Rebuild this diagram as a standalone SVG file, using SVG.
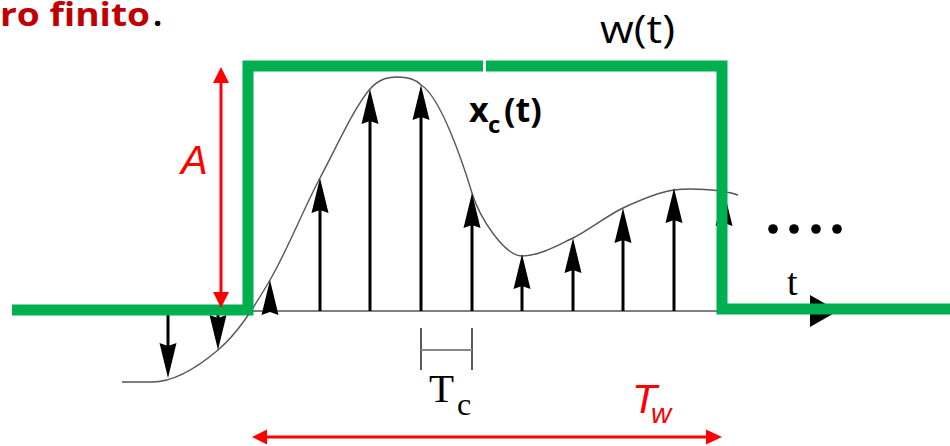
<svg xmlns="http://www.w3.org/2000/svg" xmlns:xlink="http://www.w3.org/1999/xlink" width="950" height="446" viewBox="0 0 950 446">
<style>
.stem{stroke:#000;stroke-width:3;fill:none}
.head{fill:#000}
.green{stroke:#00B050;stroke-width:11;fill:none;stroke-linejoin:miter;stroke-linecap:butt}
.red{stroke:#FF0000;stroke-width:3;fill:none}
.redf{fill:#FF0000}
.curve{stroke:#555;stroke-width:1.4;fill:none}
.sans{font-family:"Open Sans","Liberation Sans",sans-serif}
.serif{font-family:"Liberation Serif","Times New Roman",serif;fill:#000}
.ital{font-family:"Liberation Sans",Arial,sans-serif;font-style:italic;fill:#FF0000}
</style>
<defs>
<path id="hu" d="M0,0 L8.5,35 L0,32 L-8.5,35 Z"/>
<path id="hd" d="M0,0 L8.5,-35 L0,-32 L-8.5,-35 Z"/>
</defs>
<rect width="950" height="446" fill="#fff"/>

<g id="title">
<text class="sans" x="0" y="26" font-size="32" font-weight="bold" fill="#C00000" textLength="150" lengthAdjust="spacingAndGlyphs">ro finito</text>
<text class="sans" x="153" y="26" font-size="32" font-weight="bold" fill="#000">.</text>
</g>

<g id="signal">
<path class="curve" d="M122,382 L152,382 C175,382 198,367 218,350 C238,333 253,309 270,280 C287,251 303,210 320,178 C337,146 355,106 370,89 C380,77.7 390,77 397,77 C405,77 415,78 421,85 C440,96 462,160 472,193 C480,219 505,256 522,256 C540,256 560,244 573,238 C586,232 608,215 623,208 C638,201 658,192 674,190 C688,188 720,189 738,195"/>
<line x1="250" y1="311" x2="720" y2="311" stroke="#808080" stroke-width="2"/>
</g>

<g id="samples">
<line class="stem" x1="168" y1="311" x2="168" y2="353"/><use xlink:href="#hd" class="head" x="168" y="378"/>
<line class="stem" x1="218" y1="311" x2="218" y2="325"/><use xlink:href="#hd" class="head" x="218" y="350"/>
<use xlink:href="#hu" class="head" x="270" y="280"/>
<line class="stem" x1="320" y1="311" x2="320" y2="203"/><use xlink:href="#hu" class="head" x="320" y="178"/>
<line class="stem" x1="370" y1="311" x2="370" y2="114"/><use xlink:href="#hu" class="head" x="370" y="89"/>
<line class="stem" x1="421" y1="311" x2="421" y2="110"/><use xlink:href="#hu" class="head" x="421" y="85"/>
<line class="stem" x1="472" y1="311" x2="472" y2="218"/><use xlink:href="#hu" class="head" x="472" y="193"/>
<line class="stem" x1="522" y1="311" x2="522" y2="279"/><use xlink:href="#hu" class="head" x="522" y="254"/>
<line class="stem" x1="573" y1="311" x2="573" y2="263"/><use xlink:href="#hu" class="head" x="573" y="238"/>
<line class="stem" x1="623" y1="311" x2="623" y2="233"/><use xlink:href="#hu" class="head" x="623" y="208"/>
<line class="stem" x1="674" y1="311" x2="674" y2="213"/><use xlink:href="#hu" class="head" x="674" y="188"/>
<line class="stem" x1="724" y1="311" x2="724" y2="216"/><use xlink:href="#hu" class="head" x="724" y="191"/>
</g>

<g id="axis-arrow">
<path class="head" d="M810,295 L838,311 L810,327 Z"/>
</g>

<g id="window">
<path class="green" d="M12,310 H248 V66 H483"/>
<path class="green" d="M486,66 H722 V309 H950"/>
</g>

<g id="connectors">
<line class="red" x1="221" y1="80" x2="221" y2="295"/>
<path class="redf" d="M221,67 L213,83 L229,83 Z"/>
<path class="redf" d="M221,308 L213,292 L229,292 Z"/>
<line class="red" x1="265" y1="437" x2="709" y2="437"/>
<path class="redf" d="M252,437 L267,429.5 L267,444.5 Z"/>
<path class="redf" d="M722,437 L706,429.5 L706,444.5 Z"/>
<g id="tc-bracket">
<line x1="421" y1="328" x2="421" y2="370" stroke="#222" stroke-width="1.5"/>
<line x1="472" y1="328" x2="472" y2="370" stroke="#222" stroke-width="1.5"/>
<line x1="421" y1="350" x2="472" y2="350" stroke="#888" stroke-width="2"/>
</g>
</g>

<g id="labels">
<text class="sans" x="600" y="43" font-size="38" fill="#000" textLength="75" lengthAdjust="spacingAndGlyphs">w(t)</text>
<text class="sans" font-weight="bold" fill="#000"><tspan x="469" y="122" font-size="34">x</tspan><tspan x="488" y="133" font-size="24">c</tspan><tspan x="504" y="122" font-size="34">(t)</tspan></text>
<text class="ital" x="181" y="174" font-size="40">A</text>
<text class="serif"><tspan x="429" y="402" font-size="41">T</tspan><tspan x="457" y="415" font-size="32">c</tspan></text>
<text class="serif" x="787" y="295" font-size="38">t</text>
<text class="ital"><tspan x="632" y="413" font-size="41">T</tspan><tspan x="651" y="423" font-size="28">w</tspan></text>
<g id="dots" fill="#000">
<circle cx="773" cy="229" r="4.8"/><circle cx="794" cy="229" r="4.8"/><circle cx="816" cy="229" r="4.8"/><circle cx="837" cy="229" r="4.8"/>
</g>
</g>
</svg>
